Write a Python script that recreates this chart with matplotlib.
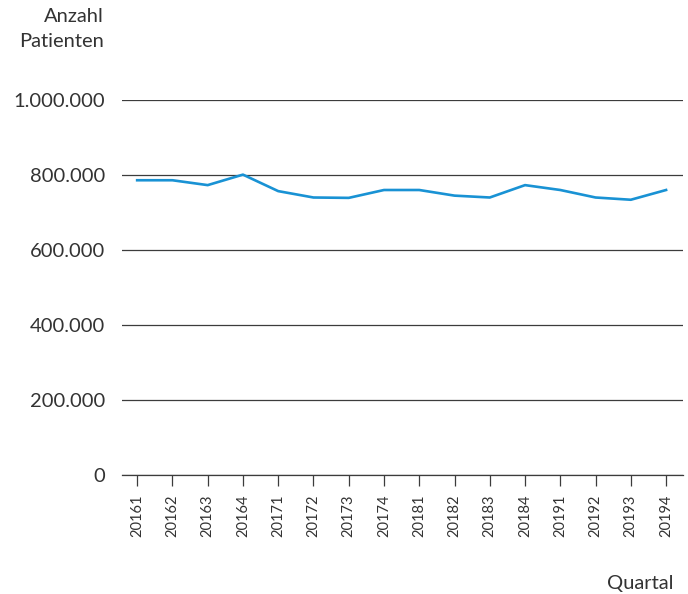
import numpy as np
import matplotlib.pyplot as plt
from matplotlib.ticker import FuncFormatter

# Daten
quartale = ['20161', '20162', '20163', '20164', '20171', '20172', '20173', '20174',
            '20181', '20182', '20183', '20184', '20191', '20192', '20193', '20194']
patienten = [786000, 786000, 773000, 801000, 757000, 740000, 739000, 760000,
             760000, 745000, 740000, 773000, 760000, 740000, 734000, 760000]
y_ticks = [0, 200000, 400000, 600000, 800000, 1000000]

plt.rcParams['font.family'] = ['Lato', 'DejaVu Sans']
txt_col = '#333333'

fig = plt.figure(figsize=(6.88, 5.94), dpi=100)
ax = fig.add_axes([122/688, 1 - 475/594, (683 - 122)/688, 375/594])

x = np.arange(len(quartale))
ax.plot(x, patienten, color='#1992d4', linewidth=1.9, zorder=3)

ax.set_ylim(0, 1000000)
ax.set_xlim(-0.43, len(quartale) - 1 + 0.48)
ax.set_yticks(y_ticks)
ax.yaxis.set_major_formatter(FuncFormatter(lambda v, p: f'{int(v):,}'.replace(',', '.')))
ax.grid(axis='y', color='#3c3c3c', linewidth=0.9, zorder=1)

ax.set_xticks(x)
ax.set_xticklabels(quartale, rotation=90, fontsize=10.5, color=txt_col)
for lbl in ax.get_yticklabels():
    lbl.set_fontsize(14.5)
    lbl.set_color(txt_col)
ax.tick_params(axis='y', length=0, pad=12)
ax.tick_params(axis='x', length=8, width=0.9, color='#3c3c3c', pad=6)

for s in ['top', 'right', 'left']:
    ax.spines[s].set_visible(False)
ax.spines['bottom'].set_color('#3c3c3c')
ax.spines['bottom'].set_linewidth(0.9)

fig.text(104/688, 1 - 8/594, 'Anzahl\nPatienten', ha='right', va='top', fontsize=14.5,
         color=txt_col, linespacing=1.6)
fig.text(674/688, 1 - 583/594, 'Quartal', ha='right', va='center', fontsize=14.5,
         color=txt_col)

fig.savefig('out.png', dpi=100)
